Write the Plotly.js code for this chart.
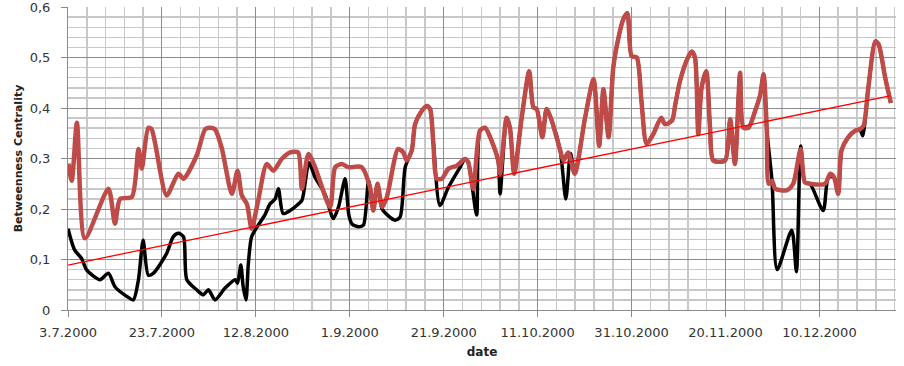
<!DOCTYPE html>
<html>
<head>
<meta charset="utf-8">
<script src="https://cdn.plot.ly/plotly-3.0.1.min.js"></script>
<style>html,body{margin:0;padding:0;background:#fff;}#chart{width:904px;height:366px;}</style>
</head>
<body>
<div id="chart"></div>
<script>
// Start date of the series; day offsets are counted from it
const startDate = '2000-07-03';

// Red series (day offset, betweenness centrality)
const redDays = [0.1,0.8,1.9,3.6,8.6,10.0,11.1,13.6,15.0,15.7,17.1,17.8,21.0,23.5,24.6,27.4,29.2,30.2,31.3,32.7,34.9,36.1,37.0,38.1,39.1,40.5,42.3,43.7,45.5,47.3,49.0,49.8,51.2,52.6,55.8,56.9,58.3,59.7,62.5,64.3,65.0,65.9,66.9,67.9,70.3,71.4,72.1,73.2,73.9,75.3,76.4,77.1,77.8,78.5,79.6,81.0,82.8,84.5,85.2,86.3,87.7,88.8,90.2,91.6,92.0,93.4,94.1,95.0,96.6,98.2,99.1,99.8,101.0,101.9,103.0,104.8,105.5,106.5,107.9,110.1,111.9,113.1,114.0,115.1,116.1,117.2,118.2,119.1,120.0,121.1,122.1,123.2,124.6,126.3,127.1,128.6,129.3,130.3,131.8,132.8,133.5,134.2,134.9,135.9,136.7,137.4,139.9,141.0,142.0,143.1,143.8,144.9,146.3,147.4,148.1,148.8,149.2,149.9,150.6,153.0,154.4,156.0,156.9,158.0,161.2,162.3,163.1,164.0,164.7,166.1,167.6,168.6,169.4,170.4,171.9,172.6,174.0,175.2];
const redValues = [0.29,0.256,0.371,0.142,0.24,0.171,0.22,0.224,0.319,0.28,0.361,0.358,0.227,0.27,0.26,0.306,0.358,0.361,0.358,0.322,0.23,0.276,0.227,0.21,0.161,0.217,0.289,0.276,0.299,0.312,0.312,0.24,0.309,0.283,0.204,0.283,0.289,0.283,0.283,0.243,0.197,0.25,0.204,0.224,0.319,0.312,0.296,0.316,0.368,0.394,0.404,0.398,0.329,0.26,0.26,0.28,0.286,0.299,0.293,0.24,0.355,0.361,0.335,0.296,0.27,0.381,0.361,0.27,0.381,0.473,0.401,0.398,0.342,0.398,0.375,0.316,0.296,0.312,0.27,0.381,0.457,0.325,0.437,0.342,0.48,0.539,0.575,0.588,0.503,0.5,0.414,0.329,0.348,0.381,0.368,0.375,0.407,0.453,0.496,0.512,0.5,0.348,0.44,0.473,0.361,0.296,0.296,0.378,0.289,0.47,0.361,0.361,0.394,0.427,0.467,0.355,0.25,0.256,0.24,0.237,0.25,0.319,0.253,0.25,0.25,0.27,0.263,0.23,0.316,0.342,0.355,0.358,0.365,0.44,0.532,0.526,0.46,0.41];

// Black series (day offset, betweenness centrality)
const blackDays = [0.0,1.4,2.9,4.0,6.8,8.6,10.0,12.5,13.9,15.0,16.0,17.1,18.2,21.0,22.4,23.5,24.6,25.3,27.4,28.8,29.9,31.3,33.4,35.6,36.1,36.8,37.3,37.9,38.4,39.1,40.5,41.9,43.0,44.1,44.8,45.8,47.3,48.7,49.8,51.3,52.6,54.7,56.5,57.6,59.0,59.8,60.5,61.9,62.9,64.0,65.0,65.9,66.9,69.6,70.7,71.8,73.2,73.9,75.3,76.4,77.1,77.8,79.2,81.0,83.5,84.5,85.2,87.0,87.7,88.8,90.2,91.6,92.0,93.4,94.1,95.0,96.6,98.2,99.1,99.8,101.0,101.9,103.0,104.8,106.0,107.0,107.9,110.1,111.9,113.1,114.0,115.1,116.1,117.2,118.2,119.1,120.0,121.1,122.1,123.2,124.6,126.3,127.1,128.6,129.3,130.3,131.8,132.8,133.5,134.2,134.9,135.9,136.7,137.4,139.9,141.0,142.0,143.1,143.8,144.9,146.3,147.4,148.1,148.8,149.9,151.0,154.1,155.1,156.0,156.9,158.0,160.8,161.9,163.1,164.0,164.7,166.1,167.6,168.6,169.2,170.4,171.9,172.6,174.0,175.2];
const blackValues = [0.161,0.119,0.102,0.079,0.06,0.073,0.046,0.027,0.02,0.06,0.138,0.069,0.073,0.112,0.145,0.152,0.145,0.06,0.04,0.03,0.04,0.02,0.043,0.06,0.053,0.089,0.046,0.02,0.092,0.145,0.168,0.188,0.21,0.22,0.24,0.191,0.197,0.207,0.217,0.292,0.263,0.23,0.181,0.204,0.26,0.188,0.17,0.165,0.168,0.256,0.197,0.25,0.2,0.178,0.184,0.283,0.316,0.368,0.394,0.404,0.398,0.329,0.207,0.243,0.283,0.299,0.293,0.188,0.355,0.361,0.335,0.296,0.23,0.381,0.361,0.27,0.381,0.473,0.401,0.398,0.342,0.398,0.375,0.316,0.22,0.31,0.27,0.381,0.457,0.325,0.437,0.342,0.48,0.539,0.575,0.588,0.503,0.5,0.414,0.329,0.348,0.381,0.368,0.375,0.407,0.453,0.496,0.512,0.5,0.348,0.44,0.473,0.361,0.296,0.296,0.378,0.289,0.47,0.361,0.361,0.394,0.427,0.467,0.355,0.256,0.08,0.158,0.076,0.325,0.253,0.25,0.197,0.263,0.263,0.23,0.316,0.342,0.355,0.358,0.345,0.44,0.532,0.526,0.46,0.41];

// Linear trend line (day offset, value)
const trendDays = [0, 175];
const trendValues = [0.089, 0.424];

// Axis setup values
const xEndDay = 176.3;
const tickStepDays = 20;
const minorStepDays = 4;

const DAY = 86400000;
const base = Date.UTC(2000, 6, 3);
function toDate(d) {
  return new Date(base + d * DAY).toISOString().slice(0, 19).replace('T', ' ');
}

const fontFam = 'DejaVu Sans, sans-serif';

const traces = [
  {
    x: blackDays.map(toDate), y: blackValues, type: 'scatter', mode: 'lines',
    line: {color: '#000000', width: 3.5, shape: 'spline', smoothing: 0.7},
    hoverinfo: 'skip'
  },
  {
    x: redDays.map(toDate), y: redValues, type: 'scatter', mode: 'lines',
    line: {color: '#be4b48', width: 4.5, shape: 'spline', smoothing: 0.7},
    hoverinfo: 'skip'
  },
  {
    x: trendDays.map(toDate), y: trendValues, type: 'scatter', mode: 'lines',
    line: {color: '#ff0000', width: 1.3},
    hoverinfo: 'skip'
  }
];

const layout = {
  width: 904, height: 366,
  margin: {l: 68, r: 8, t: 7, b: 56},
  paper_bgcolor: '#ffffff', plot_bgcolor: '#ffffff',
  showlegend: false,
  separators: ',.',
  font: {family: fontFam, color: '#333333'},
  xaxis: {
    type: 'date',
    range: [toDate(0), toDate(xEndDay)],
    tick0: startDate,
    dtick: tickStepDays * DAY,
    tickformat: '%-d.%-m.%Y',
    ticks: 'outside', ticklen: 6, tickcolor: '#8a8a8a',
    tickfont: {size: 13, family: fontFam, color: '#333333'},
    ticklabelstandoff: 4,
    ticklabeloverflow: 'allow',
    showgrid: true, gridcolor: '#8c8c8c', gridwidth: 1,
    minor: {dtick: minorStepDays * DAY, tick0: startDate, showgrid: true, gridcolor: '#c8c8c8', gridwidth: 1.5, ticks: ''},
    showline: true, linecolor: '#8a8a8a', linewidth: 1,
    zeroline: false,
    title: {text: 'date', font: {size: 12, family: 'DejaVu Sans', weight: 'bold', color: '#222'}, standoff: 9}
  },
  yaxis: {
    range: [0, 0.6001],
    tick0: 0, dtick: 0.1,
    ticks: 'outside', ticklen: 6, tickcolor: '#8a8a8a',
    tickfont: {size: 13, family: fontFam, color: '#333333'},
    ticklabelstandoff: 8,
    ticklabeloverflow: 'allow',
    showgrid: true, gridcolor: '#8c8c8c', gridwidth: 1,
    minor: {dtick: 0.02, showgrid: true, gridcolor: '#c8c8c8', gridwidth: 1.5, ticks: ''},
    showline: true, linecolor: '#8a8a8a', linewidth: 1,
    zeroline: false,
    title: {text: 'Betweenness Centrality', font: {size: 11, family: 'DejaVu Sans', weight: 'bold', color: '#222'}, standoff: 4}
  }
};

Plotly.newPlot('chart', traces, layout, {staticPlot: true, displayModeBar: false});
</script>
</body>
</html>
